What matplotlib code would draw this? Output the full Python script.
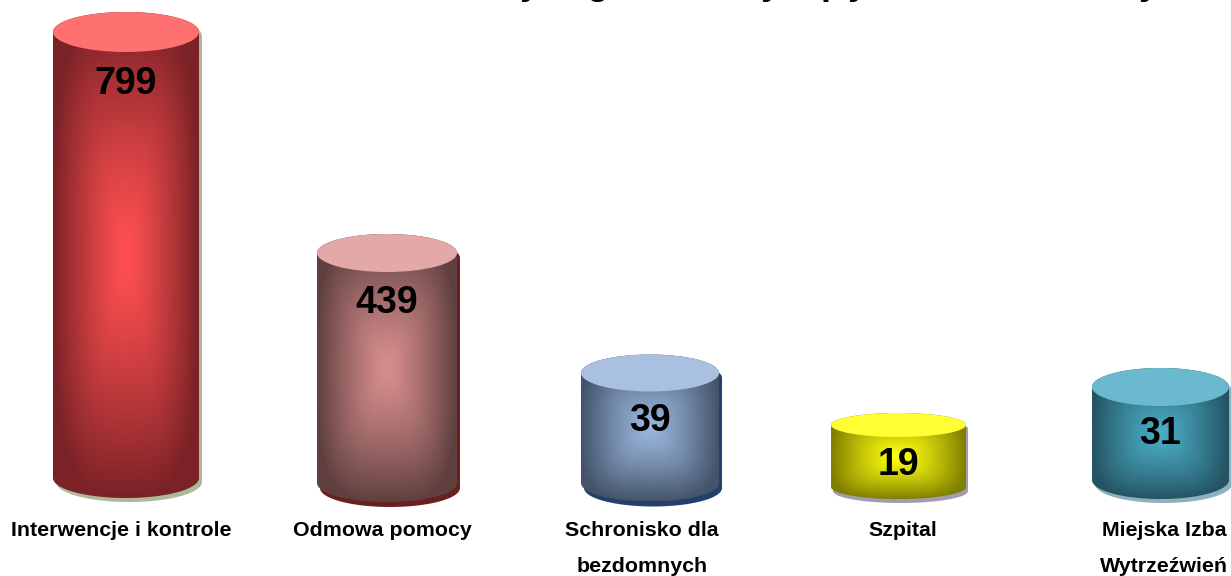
import numpy as np
import matplotlib
matplotlib.use('Agg')
import matplotlib.pyplot as plt
from matplotlib.colors import to_rgb
from matplotlib.patches import Ellipse, Polygon

# chart data
values = [799, 439, 39, 19, 31]
labels = ['Interwencje i kontrole', 'Odmowa pomocy', 'Schronisko dla\nbezdomnych', 'Szpital', 'Miejska Izba\nWytrzeźwień']
# the title is cut off by the top edge, only these tails are left
title_tails = ['y', 'g', 'y', 'p', 'y', 'y']

# layout in pixels, cylinder heights are not to scale in the picture
left = [53, 317, 581, 831, 1092]
right = [199, 457, 719, 966, 1229]
top = [32, 253, 373, 425, 387]
base = [478, 483, 483, 487, 480]
rx_b = [20, 19, 18.5, 12, 19]
shadow_off = [(3, 4), (3, 5), (3, 5), (2, 4), (3, 4)]
value_y = [84, 303, 421, 465, 434]
label_x = [121, 382, 642, 903, 1164]
tail_x = [530, 598, 771, 832, 858, 1149]

dark = ['#7a2226', '#5f403f', '#44546a', '#7f7f00', '#245463']
bright = ['#ff5050', '#d88e8e', '#9ab6dc', '#ffff10', '#4bacc6']
lid = ['#ff7070', '#e2a9a8', '#aac0e0', '#ffff33', '#6bb9cf']
shadow = ['#adb99a', '#6b2020', '#254068', '#a39bb0', '#8fb0bc']

plt.rcParams['font.family'] = ['Liberation Sans', 'DejaVu Sans']
fig = plt.figure(figsize=(12.31, 5.76), dpi=100)
ax = fig.add_axes([0, 0, 1, 1])
ax.set_xlim(0, 1231)
ax.set_ylim(576, 0)
ax.axis('off')


def outline(i, dx=0, dy=0):
    cx = (left[i] + right[i]) / 2
    a = (right[i] - left[i]) / 2
    b = rx_b[i]
    th = np.linspace(0, np.pi, 80)
    low = np.c_[cx + a * np.cos(th), base[i] + b * np.sin(th)]
    up = np.c_[cx - a * np.cos(th), top[i] - b * np.sin(th)]
    return np.vstack([low, up]) + [dx, dy]


for i in range(len(values)):
    cx = (left[i] + right[i]) / 2
    a = (right[i] - left[i]) / 2
    y0 = top[i] - rx_b[i]
    y1 = base[i] + rx_b[i]
    # shadow behind
    ax.add_patch(Polygon(outline(i, *shadow_off[i]), fc=shadow[i], ec='none', zorder=1))
    # rectangular path gradient for the body, corners softened
    xs = np.linspace(left[i], right[i], 300)
    ys = np.linspace(y0, y1, 400)
    xx, yy = np.meshgrid(xs, ys)
    u = np.abs(xx - cx) / a
    v = np.abs(yy - (y0 + y1) / 2) / ((y1 - y0) / 2)
    t = np.clip((u ** 3.5 + v ** 3.5) ** (1 / 3.5), 0, 1)[..., None] ** 1.25
    img = np.array(to_rgb(bright[i])) * (1 - t) + np.array(to_rgb(dark[i])) * t
    im = ax.imshow(img, extent=(left[i], right[i], y1, y0), origin='upper', aspect='auto', zorder=2)
    im.set_clip_path(Polygon(outline(i), transform=ax.transData))
    # lid
    ax.add_patch(Ellipse((cx, top[i]), 2 * a, 2 * rx_b[i], fc=lid[i], ec='none', zorder=3))
    ax.text(cx, value_y[i], str(values[i]), ha='center', va='center', fontsize=27, fontweight='bold', color='black', zorder=4)
    ax.text(label_x[i], 530, labels[i].split('\n')[0], ha='center', va='center', fontsize=15.4, fontweight='bold', color='black')
    if '\n' in labels[i]:
        ax.text(label_x[i], 567, labels[i].split('\n')[1], ha='center', va='center', fontsize=15.4, fontweight='bold', color='black')

for x, s in zip(tail_x, title_tails):
    ax.text(x, -5.5, s, ha='center', va='baseline', fontsize=26, fontweight='bold', color='black')

ax.set_xlim(0, 1231)
ax.set_ylim(576, 0)
fig.savefig('out.png', dpi=100)
